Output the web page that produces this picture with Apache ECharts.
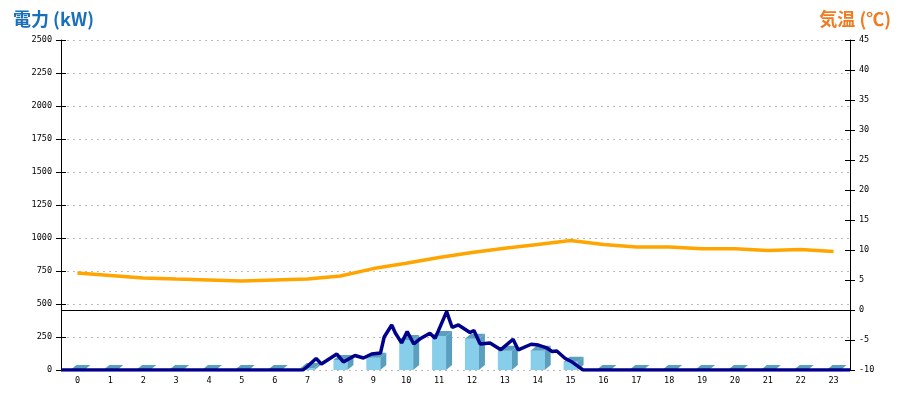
<!DOCTYPE html>
<html>
<head>
<meta charset="utf-8">
<script src="https://cdn.jsdelivr.net/npm/echarts@6/dist/echarts.min.js"></script>
<style>html,body{margin:0;padding:0;background:#fff}#c{width:900px;height:400px}</style>
</head>
<body>
<div id="c"></div>
<script>
// Hour categories
var hours = ['0','1','2','3','4','5','6','7','8','9','10','11','12','13','14','15','16','17','18','19','20','21','22','23'];
// Hourly power (kW) - 3D bars
var hourlyPower = [0,0,0,0,0,0,0,15,76,93,227,258,237,146,146,63,0,0,0,0,0,0,0,0];
// Temperature (°C) per hour
var temperature = [6.17,5.75,5.35,5.17,5.0,4.83,5.0,5.17,5.67,6.9,7.8,8.75,9.6,10.3,10.9,11.6,10.9,10.5,10.5,10.2,10.2,9.9,10.1,9.75];
// Instantaneous power line: time (hours) and value (kW)
var powerTimes = [0,7.36,7.51,7.76,7.92,8.39,8.59,8.94,9.20,9.45,9.72,9.83,10.06,10.17,10.36,10.53,10.73,10.94,11.22,11.38,11.73,11.90,12.09,12.44,12.56,12.75,13.05,13.38,13.75,13.91,14.30,14.52,14.75,14.94,15.08,15.33,15.53,15.74,15.88,24];
var powerValues = [0,0,30,87,45,121,61,110,91,121,129,250,341,280,205,292,197,239,278,240,442,322,341,284,299,197,205,154,233,152,195,189,170,140,144,89,63,25,0,0];
// Axis tick settings
var powerMax = 2500, powerStep = 250;
var tempMin = -10, tempMax = 45, tempStep = 5;

var chart = echarts.init(document.getElementById('c'));
var lblFont = {color:'#000', fontFamily:'DejaVu Sans Mono', fontSize:8.5};
function plain(v){ return String(v); }

var powerLine = powerTimes.map(function(t,i){return [t, powerValues[i]];});

function render3DBar(params, api){
  var idx = api.value(0);
  var v = api.value(1);
  var top = api.coord([idx, v]);
  var base = api.coord([idx, 0]);
  var hw = 7, dx = 6, dy = 5;
  var xl = top[0]-hw, xr = top[0]+hw;
  var yt = top[1], yb = base[1];
  var children = [];
  if (yb - yt > 0.5) {
    children.push({type:'rect', shape:{x:xl, y:yt, width:xr-xl, height:yb-yt}, style:{fill:'#87ceeb'}});
    children.push({type:'polygon', shape:{points:[[xr,yt],[xr+dx,yt-dy],[xr+dx,yb-dy],[xr,yb]]}, style:{fill:'#5a9fbe'}});
  }
  children.push({type:'polygon', shape:{points:[[xl,yt],[xr,yt],[xr+dx,yt-dy],[xl+dx,yt-dy]]}, style:{fill:'#5a9fbe'}});
  return {type:'group', children:children};
}

var option = {
  animation:false,
  backgroundColor:'#fff',
  title:[
    {text:'電力 (kW)', left:8, top:5, textStyle:{color:'#1a6fb8', fontSize:18, fontWeight:'bold', fontFamily:'Noto Sans CJK JP'}},
    {text:'気温 (℃)', right:4, top:5, textStyle:{color:'#ee7c22', fontSize:18, fontWeight:'bold', fontFamily:'Noto Sans CJK JP'}}
  ],
  grid:{left:61, right:50, top:40, bottom:30},
  xAxis:[
    {type:'category', data:hours, boundaryGap:true,
     axisLine:{show:false}, axisTick:{show:false},
     axisLabel:Object.assign({margin:6}, lblFont), splitLine:{show:false}},
    {type:'value', min:0, max:24, show:false}
  ],
  yAxis:[
    {type:'value', position:'left', min:0, max:powerMax, interval:powerStep,
     axisLine:{show:true, lineStyle:{color:'#000', width:1}},
     axisTick:{show:true, length:5, lineStyle:{color:'#000'}},
     axisLabel:Object.assign({margin:9, formatter:plain}, lblFont),
     splitLine:{show:true, lineStyle:{color:'#bbb', type:[2,4], width:1}}},
    {type:'value', position:'right', min:tempMin, max:tempMax, interval:tempStep,
     axisLine:{show:true, lineStyle:{color:'#000', width:1}},
     axisTick:{show:true, length:5, lineStyle:{color:'#000'}},
     axisLabel:Object.assign({margin:9, formatter:plain}, lblFont),
     splitLine:{show:false}},
    {type:'value', position:'left', min:0, max:powerMax, interval:powerStep,
     axisLine:{show:false}, axisTick:{show:true, inside:true, length:5, lineStyle:{color:'#000'}},
     axisLabel:{show:false}, splitLine:{show:false}},
    {type:'value', position:'right', min:tempMin, max:tempMax, interval:tempStep,
     axisLine:{show:false}, axisTick:{show:true, inside:true, length:5, lineStyle:{color:'#000'}},
     axisLabel:{show:false}, splitLine:{show:false}}
  ],
  series:[
    {type:'custom', name:'hourly', xAxisIndex:0, yAxisIndex:0,
     data:hourlyPower.map(function(v,i){return [i,v];}),
     encode:{x:0,y:1}, renderItem:render3DBar, z:2},
    {type:'line', name:'power', xAxisIndex:1, yAxisIndex:0, data:powerLine,
     showSymbol:false, symbol:'none', lineStyle:{color:'#00008b', width:3.5}, z:3},
    {type:'line', name:'temp', xAxisIndex:0, yAxisIndex:1, data:temperature,
     showSymbol:false, symbol:'none', lineStyle:{color:'#ffa500', width:3.5}, z:4,
     markLine:{silent:true, symbol:'none', label:{show:false},
       lineStyle:{color:'#000', type:'solid', width:1},
       data:[{yAxis:0}]}}
  ]
};
chart.setOption(option);
</script>
</body>
</html>
